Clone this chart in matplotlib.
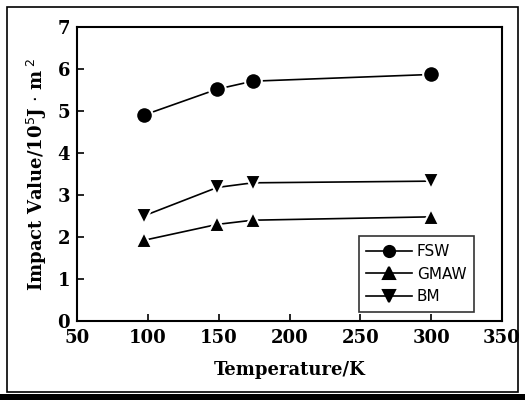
import matplotlib.pyplot as plt
from matplotlib.patches import Rectangle

temps = [97, 149, 174, 300]
fsw = [4.9, 5.52, 5.71, 5.87]
gmaw = [1.92, 2.3, 2.4, 2.48]
bm = [2.5, 3.18, 3.29, 3.33]

plt.rcParams['font.family'] = 'DejaVu Serif'

fig = plt.figure(figsize=(5.25, 4), dpi=100)
ax = fig.add_axes([77/525, 1 - 321/400, 425/525, 294/400])

style = dict(color='black', lw=1.2, ms=12, mec='white', mew=1.5)
ax.plot(temps, fsw, marker='o', label='FSW', **style)
ax.plot(temps, gmaw, marker='^', label='GMAW', **style)
ax.plot(temps, bm, marker='v', label='BM', **style)

ax.set_xlim(50, 350)
ax.set_ylim(0, 7)
ax.set_xticks([50, 100, 150, 200, 250, 300, 350])
ax.set_yticks(range(8))
ax.tick_params(direction='in', length=5, width=1.2, labelsize=13)
ax.tick_params(axis='x', pad=6)
ax.tick_params(axis='y', pad=5)
for lab in ax.get_xticklabels() + ax.get_yticklabels():
    lab.set_fontweight('bold')
for s in ax.spines.values():
    s.set_linewidth(1.5)

ax.set_xlabel('Temperature/K', fontsize=13, fontweight='bold', labelpad=10)
ax.set_ylabel(r'Impact Value/10$^5$J $\cdot$ m$^{\ 2}$', fontsize=13, fontweight='bold', labelpad=6)

leg = ax.legend(loc='lower right', bbox_to_anchor=(0.934, 0.031), frameon=True, fancybox=False,
                edgecolor='black', handlelength=3.0, borderpad=0.5, labelspacing=0.5,
                handletextpad=0.3, borderaxespad=0, prop={'family': 'DejaVu Sans', 'size': 11})
leg.get_frame().set_linewidth(1.2)
for h in leg.legend_handles:
    h.set_markeredgecolor('black')
    h.set_markersize(8)

fig.patches.append(Rectangle((7/525, 1 - 392/400), 511/525, 385/400, transform=fig.transFigure,
                             fill=False, edgecolor='black', lw=1.2))
fig.patches.append(Rectangle((0, 0), 1, 6/400, transform=fig.transFigure,
                             color='black', lw=0))

fig.savefig('out.png', dpi=100)
